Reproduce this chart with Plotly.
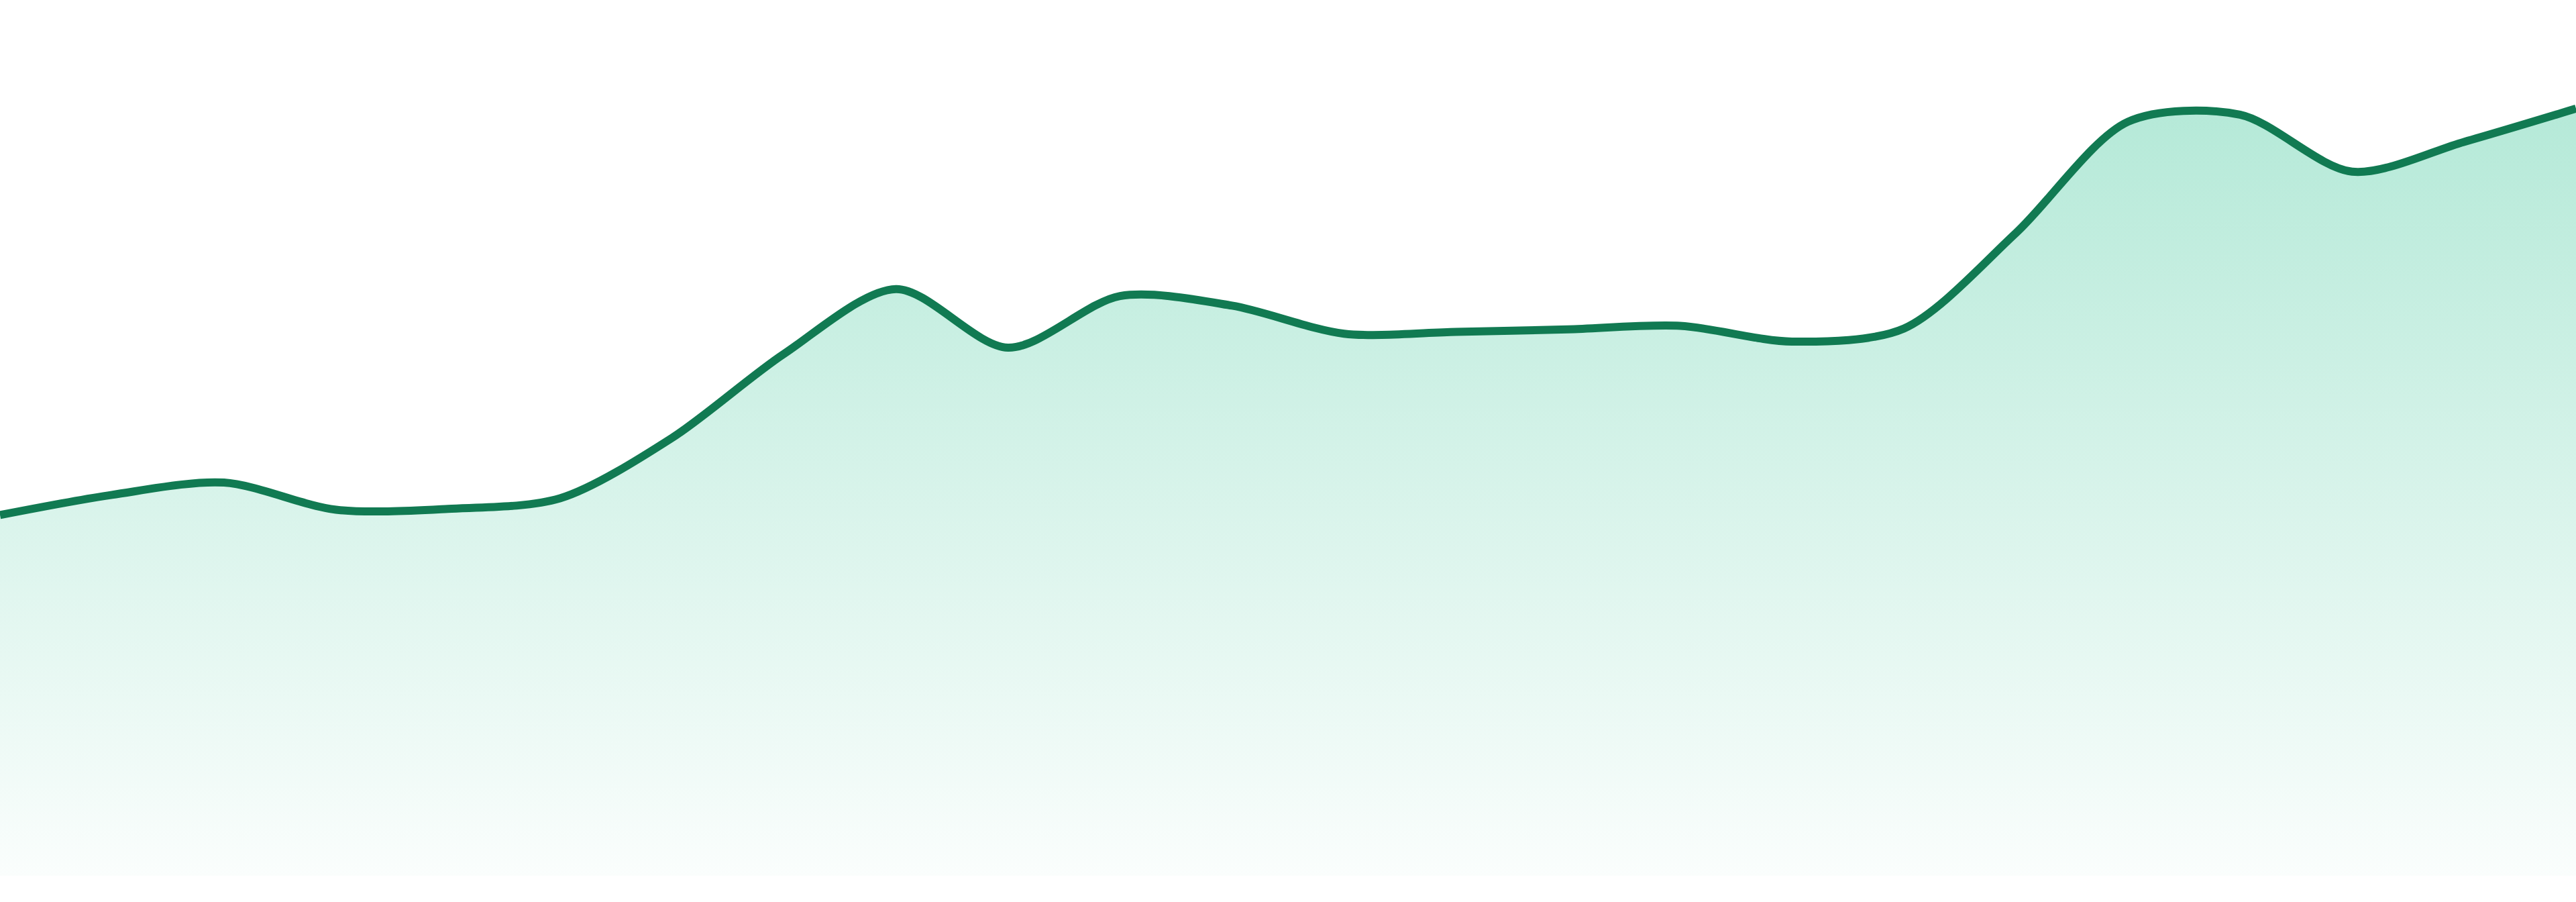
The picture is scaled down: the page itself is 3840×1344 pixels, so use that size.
import plotly.graph_objects as go

# Data
periods = list(range(24))
values = [41.2, 43.5, 44.9, 41.8, 41.9, 43.1, 50.0, 59.6, 67.0, 60.3, 66.2, 65.1,
          61.9, 62.1, 62.4, 62.8, 61.0, 62.5, 73.4, 86.1, 86.9, 80.4, 83.8, 87.6]

LINE_COLOR = "#117a52"
FILL_TOP = "rgba(16,185,129,0.31)"
FILL_BOTTOM = "rgba(16,185,129,0.02)"

fig = go.Figure()
fig.add_trace(go.Scatter(
    x=periods,
    y=values,
    mode="lines",
    line=dict(color=LINE_COLOR, width=12, shape="spline", smoothing=0.85),
    fill="tozeroy",
    fillgradient=dict(type="vertical", start=0, stop=max(values),
                      colorscale=[[0, FILL_BOTTOM], [1, FILL_TOP]]),
    hoverinfo="skip",
    showlegend=False,
))

fig.update_layout(
    width=3840,
    height=1344,
    margin=dict(l=0, r=0, t=0, b=39),
    paper_bgcolor="white",
    plot_bgcolor="white",
    xaxis=dict(visible=False, range=[0, 23], fixedrange=True),
    yaxis=dict(visible=False, range=[0, 100], fixedrange=True),
)

fig.write_html(
    "out.html",
    config={"displayModeBar": False},
    post_script="document.body.style.margin='0px';document.body.style.overflow='hidden';",
)
